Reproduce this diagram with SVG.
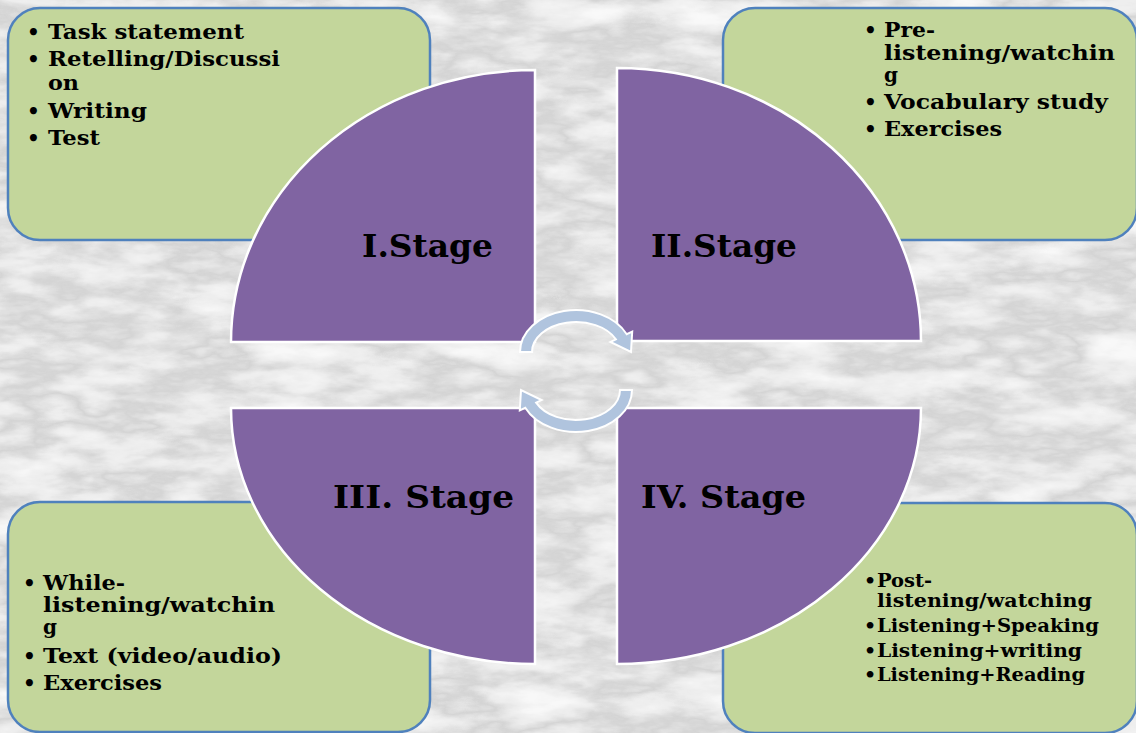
<svg xmlns="http://www.w3.org/2000/svg" width="1136" height="733" viewBox="0 0 1136 733">
<defs>
<filter id="marble" x="0" y="0" width="100%" height="100%" filterUnits="userSpaceOnUse">
<feTurbulence type="fractalNoise" baseFrequency="0.012 0.035" numOctaves="5" seed="7" result="n"/>
<feColorMatrix in="n" type="matrix" values="0.5 0.5 0 0 0 0.5 0.5 0 0 0 0.5 0.5 0 0 0 0 0 0 0 1" result="g"/>
<feComponentTransfer in="g">
<feFuncR type="table" tableValues="0.95 0.93 0.84 0.66 0.84 0.94 0.96 0.93"/>
<feFuncG type="table" tableValues="0.95 0.93 0.84 0.66 0.84 0.94 0.96 0.93"/>
<feFuncB type="table" tableValues="0.95 0.93 0.84 0.66 0.84 0.94 0.96 0.93"/>
</feComponentTransfer>
</filter>
<style>
.box{fill:#C3D69B;stroke:#4F81BD;stroke-width:2.5}
.stage{fill:#8064A2;stroke:#FFFFFF;stroke-width:2.5}
.arr{fill:#B0C4DE;stroke:#FFFFFF;stroke-width:2}
.t{font-family:"DejaVu Serif","Liberation Serif",serif;font-weight:bold;font-size:20px;fill:#000}
.s{font-size:19px}
.lbl{font-family:"DejaVu Serif","Liberation Serif",serif;font-weight:bold;font-size:31px;fill:#000}
</style>
</defs>
<rect x="0" y="0" width="1136" height="733" fill="#ffffff"/>
<rect x="0" y="7" width="1136" height="726" fill="#dddddd" filter="url(#marble)"/>

<g id="box-tl">
<rect class="box" x="8" y="8" width="422" height="232" rx="32"/>
<text class="t" x="27" y="39">•</text><text class="t" x="48" y="39" textLength="196" lengthAdjust="spacingAndGlyphs">Task statement</text>
<text class="t" x="27" y="66">•</text><text class="t" x="48" y="66" textLength="232" lengthAdjust="spacingAndGlyphs">Retelling/Discussi</text>
<text class="t" x="48" y="90" textLength="31" lengthAdjust="spacingAndGlyphs">on</text>
<text class="t" x="27" y="118">•</text><text class="t" x="48" y="118" textLength="99" lengthAdjust="spacingAndGlyphs">Writing</text>
<text class="t" x="27" y="145">•</text><text class="t" x="48" y="145" textLength="52" lengthAdjust="spacingAndGlyphs">Test</text>
</g>

<g id="box-tr">
<rect class="box" x="723" y="8" width="414" height="232" rx="32"/>
<text class="t" x="864" y="37">•</text><text class="t" x="884" y="37" textLength="51" lengthAdjust="spacingAndGlyphs">Pre-</text>
<text class="t" x="884" y="60" textLength="231" lengthAdjust="spacingAndGlyphs">listening/watchin</text>
<text class="t" x="884" y="82">g</text>
<text class="t" x="864" y="109">•</text><text class="t" x="884" y="109" textLength="224" lengthAdjust="spacingAndGlyphs">Vocabulary study</text>
<text class="t" x="864" y="136">•</text><text class="t" x="884" y="136" textLength="118" lengthAdjust="spacingAndGlyphs">Exercises</text>
</g>

<g id="box-bl">
<rect class="box" x="8" y="502" width="422" height="230" rx="32"/>
<text class="t" x="23" y="590">•</text><text class="t" x="43" y="590" textLength="82" lengthAdjust="spacingAndGlyphs">While-</text>
<text class="t" x="43" y="612" textLength="232" lengthAdjust="spacingAndGlyphs">listening/watchin</text>
<text class="t" x="43" y="634">g</text>
<text class="t" x="23" y="663">•</text><text class="t" x="43" y="663" textLength="239" lengthAdjust="spacingAndGlyphs">Text (video/audio)</text>
<text class="t" x="23" y="690">•</text><text class="t" x="43" y="690" textLength="119" lengthAdjust="spacingAndGlyphs">Exercises</text>
</g>

<g id="box-br">
<rect class="box" x="723" y="503" width="414" height="230" rx="32"/>
<text class="t s" x="864" y="587">•</text><text class="t s" x="877" y="587" textLength="55" lengthAdjust="spacingAndGlyphs">Post-</text>
<text class="t s" x="877" y="607" textLength="215" lengthAdjust="spacingAndGlyphs">listening/watching</text>
<text class="t s" x="864" y="632">•</text><text class="t s" x="877" y="632" textLength="222" lengthAdjust="spacingAndGlyphs">Listening+Speaking</text>
<text class="t s" x="864" y="657">•</text><text class="t s" x="877" y="657" textLength="205" lengthAdjust="spacingAndGlyphs">Listening+writing</text>
<text class="t s" x="864" y="681">•</text><text class="t s" x="877" y="681" textLength="208" lengthAdjust="spacingAndGlyphs">Listening+Reading</text>
</g>

<g id="stage-1">
<path class="stage" d="M535,342 L535,70 A304,272 0 0 0 231,342 Z"/>
<text class="lbl" x="362" y="257" textLength="131" lengthAdjust="spacingAndGlyphs">I.Stage</text>
</g>
<g id="stage-2">
<path class="stage" d="M617,341 L617,68 A304,273 0 0 1 921,341 Z"/>
<text class="lbl" x="651" y="257" textLength="146" lengthAdjust="spacingAndGlyphs">II.Stage</text>
</g>
<g id="stage-3">
<path class="stage" d="M535,408 L231,408 A304,256 0 0 0 535,664 Z"/>
<text class="lbl" x="333" y="508" textLength="181" lengthAdjust="spacingAndGlyphs">III. Stage</text>
</g>
<g id="stage-4">
<path class="stage" d="M617,408 L921,408 A304,256 0 0 1 617,664 Z"/>
<text class="lbl" x="641" y="508" textLength="165" lengthAdjust="spacingAndGlyphs">IV. Stage</text>
</g>

<g id="connectors">
<path id="cycle-top" class="arr" d="M520,352 A56,42 0 0 1 626.75,334.25 L632.2,331.7 L631,351.9 L610.4,341.9 L615.88,339.32 A44,30 0 0 0 532,352 Z"/>
<path id="cycle-bottom" class="arr" transform="rotate(180 576 371)" d="M520,352 A56,42 0 0 1 626.75,334.25 L632.2,331.7 L631,351.9 L610.4,341.9 L615.88,339.32 A44,30 0 0 0 532,352 Z"/>
</g>
</svg>
